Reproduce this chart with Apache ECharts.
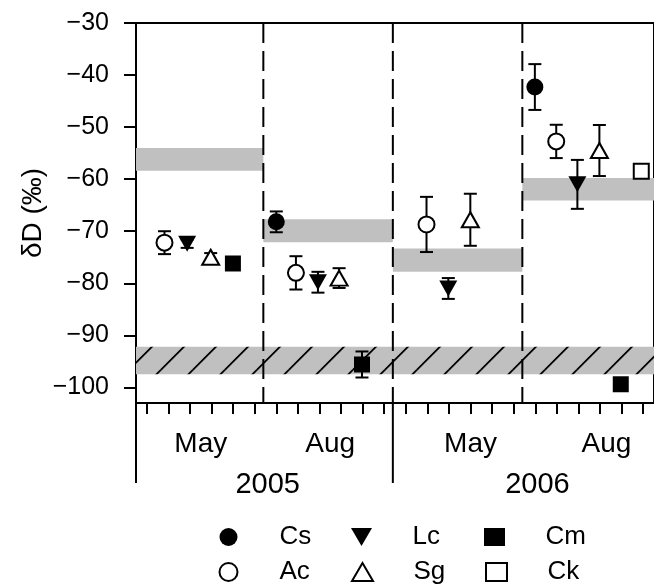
<!DOCTYPE html>
<html>
<head>
<meta charset="utf-8">
<script src="https://cdn.jsdelivr.net/npm/echarts@6/dist/echarts.min.js"></script>
<style>
html,body{margin:0;padding:0;background:#fff;}
#chart{width:654px;height:585px;}
</style>
</head>
<body>
<div id="chart"></div>
<script>
var FONT = '"Liberation Sans", Arial, sans-serif';

// axis ticks / labels
var yTicks = [-100, -90, -80, -70, -60, -50, -40, -30];
var xTicks = [0.5, 1.5, 2.5, 3.5, 4.5, 5.5, 6.5, 7.5, 8.5, 9.5, 10.5, 11.5,
              12.5, 13.5, 14.5, 15.5, 16.5, 17.5, 18.5, 19.5, 20.5, 21.5, 22.5, 23.5];
var monthNames = ['May', 'Aug', 'May', 'Aug'];
var monthPos = [3, 9, 15.5, 21.8];
var yearNames = ['2005', '2006'];
var yearPos = [6.1, 18.6];

// sampling periods and grey reference bands
var periodStart = [0, 5.9, 11.9, 17.9];
var periodEnd = [5.9, 11.9, 17.9, 24];
var bandLow = [-58.4, -72.1, -77.8, -64.1];
var bandHigh = [-54.0, -67.7, -73.3, -59.8];
var hatchLow = -97.5, hatchHigh = -92.2;
var periodBreaks = [5.9, 11.9, 17.9];
var yearBreaks = [0, 11.9];

// species: x position, mean dD, error
var csX = [6.5, 18.48],              csY = [-68.2, -42.3],               csErr = [2.0, 4.4];
var acX = [1.32, 7.41, 13.46, 19.47], acY = [-72.2, -78.0, -68.7, -52.75], acErr = [2.2, 3.2, 5.3, 3.2];
var lcX = [2.37, 8.43, 14.47, 20.45], lcY = [-72.4, -79.8, -81.0, -61.0],  lcErr = [0.8, 2.0, 2.0, 4.7];
var sgX = [3.46, 9.41, 15.49, 21.47], sgY = [-75.0, -79.0, -67.8, -54.5],  sgErr = [0.8, 1.9, 5.0, 4.9];
var cmX = [4.49, 10.47, 22.46],       cmY = [-76.2, -95.6, -99.4],         cmErr = [0.8, 2.5, 0.8];
var ckX = [23.41],                    ckY = [-58.5],                       ckErr = [0.8];

var yMin = -103, yMax = -30;

// hatch pattern tile
var tile = document.createElement('canvas');
tile.width = 32; tile.height = 32;
var tctx = tile.getContext('2d');
tctx.fillStyle = '#c0c0c0';
tctx.fillRect(0, 0, 32, 32);
tctx.strokeStyle = '#000';
tctx.lineWidth = 1.8;
[-32, 0, 32].forEach(function (k) {
    var c = 18.7 + k;
    tctx.beginPath();
    tctx.moveTo(c + 10, -10);
    tctx.lineTo(c - 42, 42);
    tctx.stroke();
});
var hatchFill = {image: tile, repeat: 'repeat'};

var bandData = [];
periodStart.forEach(function (s, i) {
    bandData.push([s, periodEnd[i], bandLow[i], bandHigh[i], 0]);
});
bandData.push([0, 24, hatchLow, hatchHigh, 1]);

var species = [
    {name: 'Cs', x: csX, y: csY, err: csErr, symbol: 'circle', size: 17, fill: '#000'},
    {name: 'Lc', x: lcX, y: lcY, err: lcErr, symbol: 'path://M0,0 L20,0 L10,17 Z', size: [18, 16], fill: '#000'},
    {name: 'Cm', x: cmX, y: cmY, err: cmErr, symbol: 'rect', size: 16, fill: '#000'},
    {name: 'Ac', x: acX, y: acY, err: acErr, symbol: 'circle', size: 16, fill: '#fff'},
    {name: 'Sg', x: sgX, y: sgY, err: sgErr, symbol: 'triangle', size: [17, 15], fill: '#fff'},
    {name: 'Ck', x: ckX, y: ckY, err: ckErr, symbol: 'rect', size: 15, fill: '#fff'}
];

var errData = [];
species.forEach(function (sp) {
    sp.x.forEach(function (x, i) { errData.push([x, sp.y[i], sp.err[i]]); });
});

var series = [
    {
        type: 'custom', name: 'bands', z: 1, silent: true,
        data: bandData,
        renderItem: function (params, api) {
            var p0 = api.coord([api.value(0), api.value(3)]);
            var p1 = api.coord([api.value(1), api.value(2)]);
            return {
                type: 'rect',
                shape: {x: p0[0], y: p0[1], width: p1[0] - p0[0], height: p1[1] - p0[1]},
                style: {fill: api.value(4) === 1 ? hatchFill : '#c0c0c0'}
            };
        }
    },
    {
        type: 'custom', name: 'breaks', z: 2, silent: true,
        data: periodBreaks.map(function (x) { return [x]; }),
        renderItem: function (params, api) {
            var a = api.coord([api.value(0), yMax]);
            var b = api.coord([api.value(0), yMin]);
            return {
                type: 'line',
                shape: {x1: a[0], y1: a[1], x2: b[0], y2: b[1]},
                style: {stroke: '#000', lineWidth: 2, lineDash: [20, 8]}
            };
        }
    },
    {
        type: 'custom', name: 'years', z: 2, silent: true, clip: false,
        data: yearBreaks.map(function (x) { return [x]; }),
        renderItem: function (params, api) {
            var a = api.coord([api.value(0), yMin]);
            return {
                type: 'line',
                shape: {x1: a[0], y1: a[1], x2: a[0], y2: a[1] + 80},
                style: {stroke: '#000', lineWidth: 2}
            };
        }
    },
    {
        type: 'custom', name: 'errors', z: 3, silent: true,
        data: errData,
        renderItem: function (params, api) {
            var hi = api.coord([api.value(0), api.value(1) + api.value(2)]);
            var lo = api.coord([api.value(0), api.value(1) - api.value(2)]);
            var st = {stroke: '#000', lineWidth: 2};
            return {
                type: 'group',
                children: [
                    {type: 'line', shape: {x1: hi[0], y1: hi[1], x2: lo[0], y2: lo[1]}, style: st},
                    {type: 'line', shape: {x1: hi[0] - 6.5, y1: hi[1], x2: hi[0] + 6.5, y2: hi[1]}, style: st},
                    {type: 'line', shape: {x1: lo[0] - 6.5, y1: lo[1], x2: lo[0] + 6.5, y2: lo[1]}, style: st}
                ]
            };
        }
    }
];

species.forEach(function (sp) {
    series.push({
        type: 'scatter', name: sp.name, z: 4,
        symbol: sp.symbol, symbolSize: sp.size,
        itemStyle: {color: sp.fill, borderColor: '#000', borderWidth: sp.fill === '#fff' ? 2 : 0, opacity: 1},
        data: sp.x.map(function (x, i) { return [x, sp.y[i]]; })
    });
});

var myChart = echarts.init(document.getElementById('chart'));
var option = {
    animation: false,
    backgroundColor: '#fff',
    grid: {left: 136, top: 23, right: -11, bottom: 182, show: true, borderColor: '#000', borderWidth: 2},
    xAxis: [
        {
            type: 'value', min: 0, max: 24, position: 'bottom',
            splitLine: {show: false},
            axisLine: {lineStyle: {color: '#000', width: 2}},
            axisTick: {show: true, customValues: xTicks, length: 11, lineStyle: {color: '#000', width: 2}},
            axisLabel: {
                customValues: monthPos, margin: 27, color: '#000', fontSize: 28, fontFamily: FONT,
                formatter: function (v) { return monthNames[monthPos.indexOf(v)] || ''; }
            }
        },
        {
            type: 'value', min: 0, max: 24, position: 'bottom',
            splitLine: {show: false}, axisLine: {show: false}, axisTick: {show: false},
            axisLabel: {
                customValues: yearPos, margin: 67, color: '#000', fontSize: 29, fontFamily: FONT,
                formatter: function (v) { return yearNames[yearPos.indexOf(v)] || ''; }
            }
        }
    ],
    yAxis: {
        type: 'value', min: yMin, max: yMax,
        name: 'δD (‰)', nameLocation: 'middle', nameGap: 89, nameMoveOverlap: false,
        nameTextStyle: {color: '#000', fontSize: 28, fontFamily: FONT},
        splitLine: {show: false},
        axisLine: {show: true, lineStyle: {color: '#000', width: 2}},
        axisTick: {show: true, customValues: yTicks, length: 12, lineStyle: {color: '#000', width: 2}},
        axisLabel: {
            customValues: yTicks, margin: 27, color: '#000', fontSize: 25, fontFamily: FONT,
            formatter: function (v) { return String(v).replace('-', '\u2212'); }
        }
    },
    legend: {
        data: ['Cs', 'Lc', 'Cm', 'Ac', 'Sg', 'Ck'],
        left: 218.5, top: 524, width: 395, padding: 0,
        itemWidth: 21, itemHeight: 18, itemGap: 9,
        selectedMode: false,
        textStyle: {color: '#000', fontSize: 26, fontFamily: FONT, width: 62.5, lineHeight: 26, padding: [0, 0, 0, 35.5]}
    },
    series: series
};
myChart.setOption(option);
</script>
</body>
</html>
